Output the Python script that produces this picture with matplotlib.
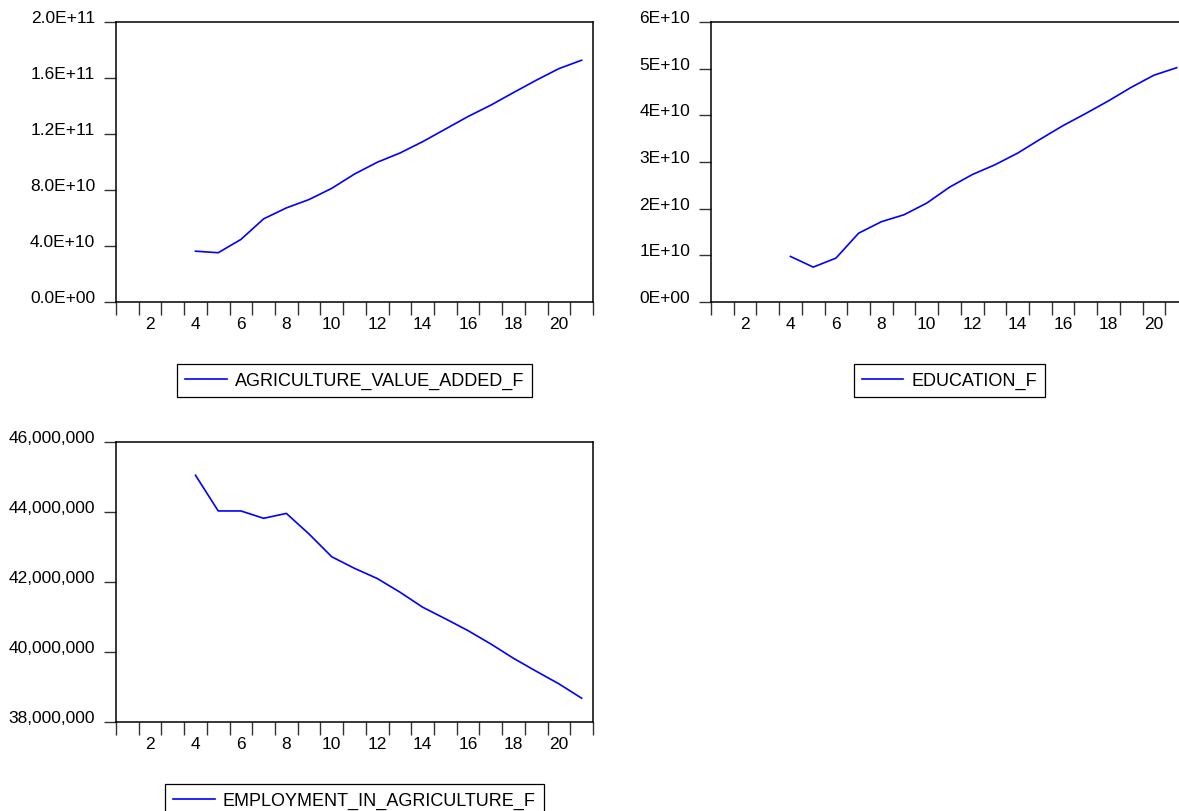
import matplotlib
matplotlib.use("Agg")
from matplotlib import pyplot as plt
from matplotlib.transforms import ScaledTranslation

plt.rcParams['font.family'] = ['Liberation Sans', 'DejaVu Sans']

# Observations 1..21, series start at observation 4
obs = list(range(4, 22))

agriculture_value_added = [3.63e10, 3.52e10, 4.47e10, 5.94e10, 6.72e10, 7.32e10, 8.12e10,
                           9.14e10, 9.98e10, 1.064e11, 1.145e11, 1.235e11, 1.325e11,
                           1.406e11, 1.496e11, 1.584e11, 1.667e11, 1.727e11]
education = [9.76e9, 7.48e9, 9.4e9, 1.475e10, 1.72e10, 1.87e10, 2.12e10, 2.46e10, 2.73e10,
             2.94e10, 3.19e10, 3.49e10, 3.78e10, 4.04e10, 4.31e10, 4.60e10, 4.86e10, 5.02e10]
employment_agriculture = [45.05e6, 44.03e6, 44.03e6, 43.82e6, 43.96e6, 43.37e6, 42.72e6,
                          42.39e6, 42.10e6, 41.71e6, 41.28e6, 40.95e6, 40.61e6, 40.23e6,
                          39.82e6, 39.45e6, 39.09e6, 38.68e6]

x_labels = [2, 4, 6, 8, 10, 12, 14, 16, 18, 20]

W, H = 1179, 812
fig = plt.figure(figsize=(W / 100, H / 100), dpi=100)


def make_axes(left, top, right, bottom):
    return fig.add_axes([left / W, 1 - bottom / H, (right - left) / W, (bottom - top) / H])


def style(ax, series, name, yticks, ylabels):
    ax.plot(obs, series, color='#0000ff', linewidth=1.2)
    ax.set_xlim(0.5, 21.5)
    ax.set_ylim(yticks[0], yticks[-1])
    for s in ax.spines.values():
        s.set_linewidth(1.1)
        s.set_color('black')
    # category boundaries as ticks, labels centred on categories
    ax.set_xticks([i + 0.5 for i in range(0, 22)])
    ax.set_xticklabels([])
    ax.set_xticks(x_labels, minor=True)
    ax.set_xticklabels([str(v) for v in x_labels], minor=True)
    ax.tick_params(axis='x', which='major', direction='out', length=9, width=1, color='#333333')
    ax.tick_params(axis='x', which='minor', length=0, pad=10, labelsize=12.5)
    ax.set_yticks(yticks)
    ax.set_yticklabels(ylabels)
    ax.tick_params(axis='y', direction='out', length=9, width=1, pad=6, labelsize=12.5,
                   color='#333333')
    off = ScaledTranslation(0, 6 / 100, fig.dpi_scale_trans)
    for lab in ax.get_yticklabels():
        lab.set_transform(lab.get_transform() + off)
    leg = ax.legend([name], loc='upper center', bbox_to_anchor=(0.5, -53 / 280),
                    fancybox=False, edgecolor='black', framealpha=1, fontsize=13,
                    handlelength=2.3, handletextpad=0.45, borderpad=0.45)
    leg.get_frame().set_linewidth(0.9)


ax1 = make_axes(116, 23, 593, 303)
style(ax1, agriculture_value_added, 'AGRICULTURE_VALUE_ADDED_F',
      [0, 4e10, 8e10, 1.2e11, 1.6e11, 2e11],
      ['0.0E+00', '4.0E+10', '8.0E+10', '1.2E+11', '1.6E+11', '2.0E+11'])

ax2 = make_axes(711, 23, 1188, 303)
style(ax2, education, 'EDUCATION_F',
      [0, 1e10, 2e10, 3e10, 4e10, 5e10, 6e10],
      ['0E+00', '1E+10', '2E+10', '3E+10', '4E+10', '5E+10', '6E+10'])

ax3 = make_axes(116, 443, 593, 723)
style(ax3, employment_agriculture, 'EMPLOYMENT_IN_AGRICULTURE_F',
      [38e6, 40e6, 42e6, 44e6, 46e6],
      ['38,000,000', '40,000,000', '42,000,000', '44,000,000', '46,000,000'])

fig.savefig('out.png', dpi=100)
